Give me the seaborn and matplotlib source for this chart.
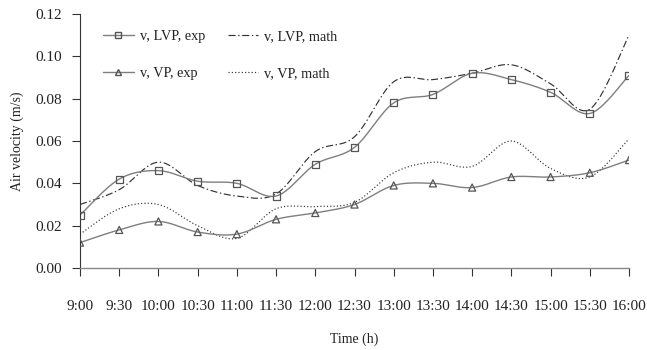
import numpy as np
import pandas as pd
import matplotlib
matplotlib.use("Agg")
import matplotlib.pyplot as plt
from matplotlib.lines import Line2D
import seaborn as sns

times = ["9:00", "9:30", "10:00", "10:30", "11:00", "11:30", "12:00", "12:30",
         "13:00", "13:30", "14:00", "14:30", "15:00", "15:30", "16:00"]
lvp_exp = [0.025, 0.042, 0.046, 0.041, 0.040, 0.034, 0.049, 0.057,
           0.078, 0.082, 0.092, 0.089, 0.083, 0.073, 0.091]
lvp_math = [0.030, 0.037, 0.050, 0.039, 0.034, 0.035, 0.055, 0.062,
            0.088, 0.089, 0.092, 0.096, 0.087, 0.075, 0.110]
vp_exp = [0.012, 0.018, 0.022, 0.017, 0.016, 0.023, 0.026, 0.030,
          0.039, 0.040, 0.038, 0.043, 0.043, 0.045, 0.051]
vp_math = [0.016, 0.028, 0.030, 0.020, 0.014, 0.028, 0.029, 0.031,
           0.045, 0.050, 0.048, 0.060, 0.047, 0.043, 0.061]
yticks = [0.00, 0.02, 0.04, 0.06, 0.08, 0.10, 0.12]


def smooth(y, n=20):
    """Catmull-Rom curve through the points (Excel-style smoothed line)."""
    y = np.asarray(y, float)
    x = np.arange(len(y), dtype=float)
    P = np.column_stack([x, y])
    P = np.vstack([P[0], P, P[-1]])
    out = []
    for i in range(1, len(P) - 2):
        p0, p1, p2, p3 = P[i - 1], P[i], P[i + 1], P[i + 2]
        t = np.linspace(0, 1, n, endpoint=False)[:, None]
        pts = 0.5 * ((2 * p1) + (-p0 + p2) * t + (2 * p0 - 5 * p1 + 4 * p2 - p3) * t ** 2
                     + (-p0 + 3 * p1 - 3 * p2 + p3) * t ** 3)
        out.append(pts)
    out.append(P[-2][None, :])
    a = np.vstack(out)
    return a[:, 0], a[:, 1]


sns.set_theme(style="ticks")
plt.rcParams["font.family"] = ["Liberation Serif", "DejaVu Serif"]

fig = plt.figure(figsize=(6.47, 3.5), dpi=100)
ax = fig.add_axes([80 / 647, 1 - 268 / 350, (629 - 80) / 647, (268 - 14) / 350])

exp_col = "#7f7f7f"
mk_col = "#555555"
math_col = "#333333"
dashdot = (0, (6, 2.2, 1.2, 2.2))
dotted = (0, (1, 1.8))

for vals, ls, in [(lvp_math, dashdot), (vp_math, dotted)]:
    sx, sy = smooth(vals)
    sns.lineplot(x=sx, y=sy, ax=ax, color=math_col, lw=0.85, linestyle=ls, sort=False)

for vals, mk in [(lvp_exp, "s"), (vp_exp, "^")]:
    sx, sy = smooth(vals)
    sns.lineplot(x=sx, y=sy, ax=ax, color=exp_col, lw=1.0, sort=False)
    sns.scatterplot(x=np.arange(len(vals)), y=vals, ax=ax, marker=mk, s=26,
                    facecolor="none", edgecolor=mk_col, linewidth=0.9, zorder=5)

ax.set_xlim(0, len(times) - 1)
ax.set_ylim(0, 0.12)
ax.set_xticks(np.arange(len(times)))
ax.set_xticklabels(times)
ax.set_yticks(yticks)
ax.set_yticklabels([f"{v:.2f}" for v in yticks])
ax.tick_params(axis="x", direction="out", length=6, width=0.8, colors="#333333",
               labelsize=11, labelcolor="#222222", pad=17)
ax.tick_params(axis="y", direction="out", length=6, width=0.8, colors="#333333",
               labelsize=11, labelcolor="#222222", pad=7)
for s in ["top", "right"]:
    ax.spines[s].set_visible(False)
ax.spines["left"].set_color("#333333")
ax.spines["bottom"].set_color("#888888")
ax.spines["left"].set_linewidth(0.8)
ax.spines["bottom"].set_linewidth(1.0)
ax.set_xlabel("Time (h)", fontsize=10, color="#222222", labelpad=14)
ax.set_ylabel("Air velocity (m/s)", fontsize=10, color="#222222", labelpad=8)

handles = [
    Line2D([], [], color=exp_col, lw=1.0, marker="s", markersize=5,
           markerfacecolor="none", markeredgecolor=mk_col),
    Line2D([], [], color=exp_col, lw=1.0, marker="^", markersize=5,
           markerfacecolor="none", markeredgecolor=mk_col),
    Line2D([], [], color=math_col, lw=0.85, linestyle=dashdot),
    Line2D([], [], color=math_col, lw=0.85, linestyle=dotted),
]
labels = ["v, LVP, exp", "v, VP, exp", "v, LVP, math", "v, VP, math"]
ax.legend(handles, labels, ncol=2, frameon=False, loc="upper left",
          bbox_to_anchor=(0.042, 0.938), borderpad=0, borderaxespad=0,
          fontsize=10.3, handlelength=2.15, handletextpad=0.4,
          labelspacing=1.7, columnspacing=1.6, labelcolor="#222222")

fig.savefig("out.png", dpi=100)
